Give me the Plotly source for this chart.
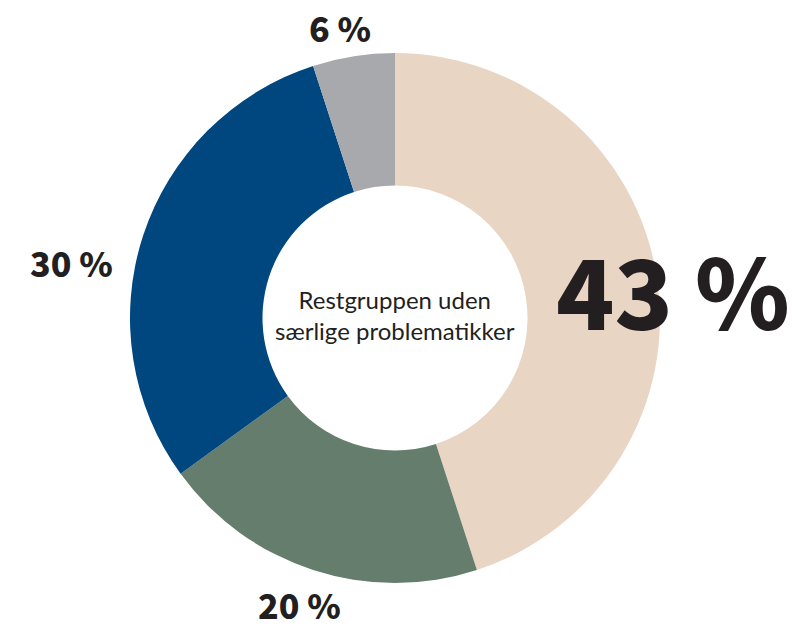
import plotly.graph_objects as go

categories = ["Restgruppen", "Gruppe 2", "Gruppe 3", "Gruppe 4"]
shares = [45, 20, 30, 5]          # slice sizes
label_texts = ["43 %", "20 %", "30 %", "6 %"]
colors = ["#E9D5C3", "#647D6C", "#00467F", "#A7A9AC"]
center_text = "Restgruppen uden<br>særlige problematikker"

W, H = 792, 628
cx, cy, R = 395, 318, 265

fig = go.Figure(go.Pie(
    labels=categories,
    values=shares,
    hole=0.5,
    sort=False,
    direction="clockwise",
    rotation=0,
    marker=dict(colors=colors, line=dict(width=0)),
    textinfo="none",
    hoverinfo="skip",
    showlegend=False,
    domain=dict(x=[(cx - R) / W, (cx + R) / W],
                y=[(H - cy - R) / H, (H - cy + R) / H]),
))

txt = "#231F20"
ann_pos = [  # (x px, y px, font size) in window pixels
    (673, 288, 96),
    (299, 604, 34),
    (71, 262, 34),
    (340, 28, 34),
]
annotations = []
for t, (x, y, s) in zip(label_texts, ann_pos):
    annotations.append(dict(
        x=x / W, y=1 - y / H, xref="paper", yref="paper",
        text=t, showarrow=False,
        font=dict(family="Noto Sans CJK SC", size=s, color=txt, weight=900),
        xanchor="center", yanchor="middle",
    ))
annotations.append(dict(
    x=cx / W, y=1 - 315 / H, xref="paper", yref="paper",
    text=center_text, showarrow=False,
    font=dict(family="Lato", size=24, color=txt),
    xanchor="center", yanchor="middle",
))

fig.update_layout(
    width=W, height=H,
    margin=dict(l=0, r=0, t=0, b=0),
    paper_bgcolor="white", plot_bgcolor="white",
    annotations=annotations,
)

fig.write_html("out.html", config={"displayModeBar": False},
               post_script="document.body.style.margin='0';")
